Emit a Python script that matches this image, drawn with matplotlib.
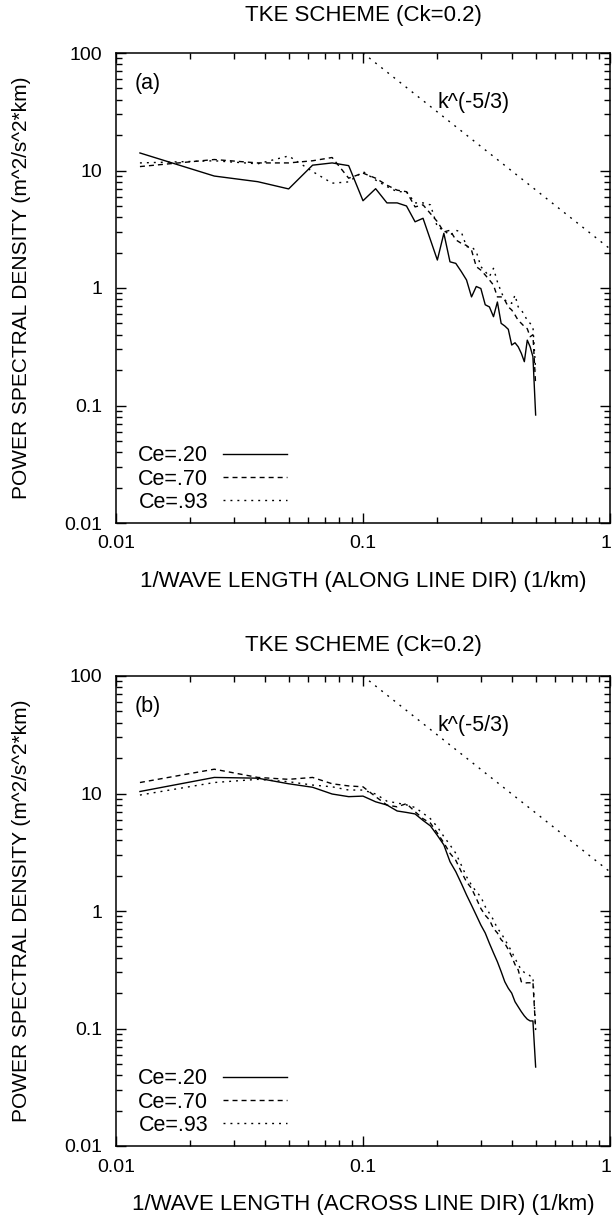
import numpy as np
import matplotlib
matplotlib.use("Agg")
from matplotlib import pyplot as plt
from matplotlib.ticker import LogLocator, NullFormatter
from matplotlib.transforms import ScaledTranslation

plt.rcParams['font.family'] = ['Liberation Sans', 'DejaVu Sans']

#Wavenumbers (1/km), k = n/80 for n = 1..40
k = np.arange(1, 41) / 80.0

#Panel (a) along line direction
a_ce20 = [14.1, 8.97, 8.03, 6.97, 11.1, 11.6, 11.0, 5.53, 7.0, 5.3,
          5.3, 4.99, 3.66, 3.92, 2.57, 1.73, 2.92, 1.67, 1.62, 1.38,
          1.17, 0.84, 1.03, 0.99, 0.72, 0.69, 0.57, 0.76, 0.50, 0.475,
          0.445, 0.327, 0.342, 0.316, 0.278, 0.236, 0.36, 0.316, 0.26, 0.083]
a_ce70 = [10.8, 12.4, 11.6, 11.6, 12.1, 12.9, 8.6, 9.5, 8.6, 7.5,
          6.8, 6.6, 4.9, 5.1, 4.3, 3.67, 3.0, 3.1, 2.57, 2.4,
          2.3, 2.1, 1.52, 1.42, 1.29, 1.17, 1.06, 0.84, 0.84, 0.79,
          0.69, 0.65, 0.59, 0.53, 0.50, 0.47, 0.45, 0.385, 0.40, 0.15]
a_ce93 = [11.6, 12.1, 11.4, 13.3, 9.8, 7.8, 8.0, 9.8, 8.3, 7.3,
          6.6, 6.6, 5.3, 5.3, 5.1, 3.3, 3.1, 2.8, 3.1, 3.0,
          2.25, 2.25, 2.04, 1.52, 1.38, 1.25, 1.47, 1.13, 0.93, 0.79,
          0.76, 0.74, 0.87, 0.69, 0.65, 0.59, 0.53, 0.50, 0.47, 0.2]

#Panel (b) across line direction
b_ce20 = [10.4, 13.7, 13.5, 12.1, 11.3, 9.9, 9.4, 9.5, 8.5, 7.98,
          7.1, 6.9, 6.7, 5.9, 5.3, 4.4, 3.65, 2.63, 2.16, 1.72,
          1.37, 1.12, 0.92, 0.76, 0.65, 0.53, 0.44, 0.37, 0.305, 0.25,
          0.22, 0.20, 0.169, 0.153, 0.139, 0.128, 0.12, 0.116, 0.116, 0.047]
b_ce70 = [12.4, 16.1, 13.7, 13.2, 13.7, 12.1, 11.6, 11.4, 9.4, 7.98,
          7.7, 8.2, 7.0, 6.1, 5.6, 4.6, 3.8, 3.1, 2.7, 2.16,
          1.77, 1.56, 1.28, 1.05, 0.92, 0.84, 0.71, 0.65, 0.57, 0.53,
          0.47, 0.41, 0.35, 0.315, 0.25, 0.243, 0.245, 0.245, 0.25, 0.097]
b_ce93 = [9.7, 12.4, 13.2, 12.6, 11.8, 11.4, 10.7, 10.7, 9.9, 8.6,
          8.3, 8.0, 7.6, 6.8, 6.1, 5.2, 4.3, 3.65, 3.1, 2.46,
          1.96, 1.66, 1.46, 1.32, 1.09, 0.955, 0.84, 0.71, 0.65, 0.57,
          0.51, 0.45, 0.395, 0.35, 0.315, 0.30, 0.295, 0.28, 0.275, 0.1]

#k^(-5/3) reference line end points
ref_k = [0.1, 1.0]
ref_psd = [100.0, 2.154]

labels = ["Ce=.20", "Ce=.70", "Ce=.93"]
styles = ["-", (0, (3.6, 2.9)), (0, (1.4, 3.6))]
xlabels = ["1/WAVE LENGTH (ALONG LINE DIR) (1/km)",
           "1/WAVE LENGTH (ACROSS LINE DIR) (1/km)"]
tags = ["(a)", "(b)"]
title = "TKE SCHEME (Ck=0.2)"

fs_tick = 14
fs_text = 15.5
fig = plt.figure(figsize=(6.12, 12.15), dpi=100)
ax_a = fig.add_axes([116/612, 1-523/1215, 494/612, 470/1215])
ax_b = fig.add_axes([116/612, 1-1146/1215, 494/612, 470/1215])

panels = [(ax_a, [a_ce20, a_ce70, a_ce93]), (ax_b, [b_ce20, b_ce70, b_ce93])]
title_y = [1-16/1215, 1-645/1215]

for i, (ax, series) in enumerate(panels):
    for vals, ls, lab in zip(series, styles, labels):
        ax.plot(k, vals, color="black", lw=1.0, linestyle=ls, label=lab)
    ax.plot(ref_k, ref_psd, color="black", lw=1.0, linestyle=(0, (1.4, 4.2)))

    ax.set_xscale("log")
    ax.set_yscale("log")
    ax.set_xlim(0.01, 1)
    ax.set_ylim(0.01, 100)

    ax.xaxis.set_minor_locator(LogLocator(base=10, subs=np.arange(2, 10), numticks=10))
    ax.yaxis.set_minor_locator(LogLocator(base=10, subs=np.arange(2, 10), numticks=10))
    ax.set_xticks([0.01, 0.1, 1])
    ax.set_xticklabels(["0.01", "0.1", ""])  # "1" drawn below so it stays inside
    ax.set_yticks([0.01, 0.1, 1, 10, 100])
    ax.set_yticklabels(["0.01", "0.1", "1", "10", "100"])
    ax.xaxis.set_minor_formatter(NullFormatter())
    ax.yaxis.set_minor_formatter(NullFormatter())

    ax.tick_params(which="both", direction="in", top=True, right=True, width=1.0)
    ax.tick_params(which="major", length=7, labelsize=fs_tick)
    ax.tick_params(axis="x", which="major", pad=9)
    ax.tick_params(axis="y", which="major", pad=10)
    ax.tick_params(which="minor", length=4)
    for sp in ax.spines.values():
        sp.set_linewidth(1.1)

    #last x tick label, right aligned at the axis end
    trans, va, _ = ax.get_xaxis_text1_transform(9)
    ax.text(1.0, 0, "1", fontsize=fs_tick, va=va, ha="right",
            transform=trans + ScaledTranslation(1/72, 0, fig.dpi_scale_trans))

    ax.set_xlabel(xlabels[i], fontsize=16, labelpad=13)
    ax.set_ylabel("POWER SPECTRAL DENSITY (m^2/s^2*km)", fontsize=15, labelpad=24)

    ax.text(0.0119, 55, tags[i], fontsize=fs_text, ha="left", va="center")
    ax.text(0.2, 38, "k^(-5/3)", fontsize=fs_text, ha="left", va="center")

    ax.legend(loc="lower left", bbox_to_anchor=(0.045, 0.022), frameon=False,
              markerfirst=False, fontsize=fs_text, handlelength=2.95, handletextpad=0.7,
              labelspacing=0.1, borderpad=0, borderaxespad=0)

    fig.text(363/612, title_y[i], title, fontsize=16, ha="center", va="center")

plt.savefig("out.png", dpi=100)
